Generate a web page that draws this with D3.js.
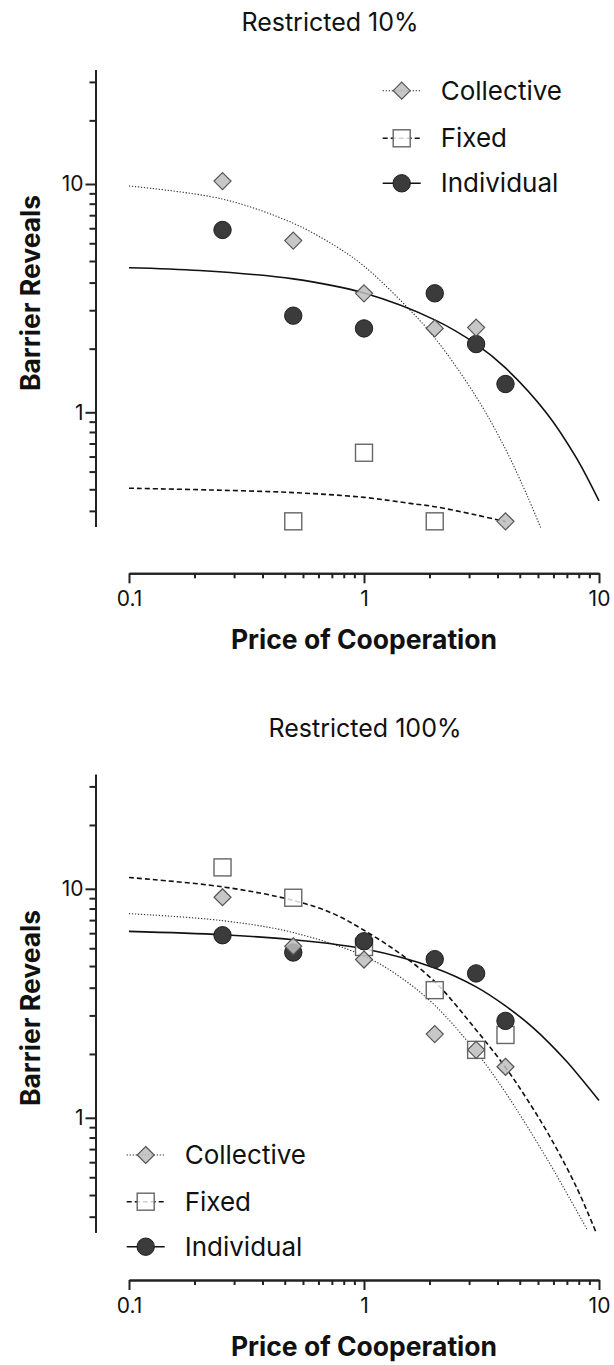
<!DOCTYPE html>
<html>
<head>
<meta charset="utf-8">
<script src="https://cdn.jsdelivr.net/npm/d3@7"></script>
<style>
  body { margin: 0; background: #fff; }
  svg { display: block; font-family: Inter, "Liberation Sans", sans-serif; }
  .axis path, .axis line { stroke: #222; stroke-width: 2; }
  .axis text { font-size: 21px; fill: #111; font-family: Inter, sans-serif; }
  .title { font-size: 25px; fill: #111; }
  .axis-title { font-size: 26.5px; font-weight: 700; fill: #111; }
  .legend text { font-size: 26px; fill: #111; }
</style>
</head>
<body>
<svg width="614" height="1365"></svg>
<script>
const width = 614, height = 1365;

// price of cooperation values
const prices = [0.25, 0.5, 1, 2, 3, 4];
const seriesNames = ["Collective", "Fixed", "Individual"];
const xTickLabels = [0.1, 1, 10];
const yTickLabels = [1, 10];

// Restricted 10%
const r10Collective = [10.3, 5.65, 3.32, 2.33, 2.35, 0.333];
const r10Fixed = [null, 0.333, 0.665, 0.333, null, null];
const r10Individual = [6.29, 2.65, 2.33, 3.32, 1.99, 1.33];
const r10CollectiveFit = [[0.1, 9.8], [0.25, 8.59], [0.5, 6.73], [0.75, 5.37], [1, 4.37], [1.5, 2.94], [2, 2.12], [3, 1.17], [4, 0.69], [5, 0.421], [5.64, 0.313]];
const r10FixedFit = [[0.1, 0.465], [0.22, 0.457], [0.5, 0.445], [1, 0.424], [1.57, 0.399], [2, 0.386], [3, 0.355], [4, 0.332]];
const r10IndividualFit = [[0.1, 4.3], [0.2, 4.18], [0.5, 3.84], [1, 3.33], [2, 2.54], [3, 1.99], [4, 1.565], [6, 0.989], [8, 0.633], [10, 0.409]];

// Restricted 100%
const r100Collective = [9.19, 5.61, 4.91, 2.32, 1.98, 1.67];
const r100Fixed = [12.4, 9.14, 5.57, 3.61, 1.98, 2.3];
const r100Individual = [6.27, 5.27, 5.9, 4.93, 4.27, 2.65];
const r100CollectiveFit = [[0.1, 7.79], [0.25, 7.26], [0.5, 6.44], [1, 5.09], [1.42, 4.13], [2, 3.1], [3, 1.94], [4, 1.29], [6, 0.663], [8.87, 0.327]];
const r100FixedFit = [[0.1, 11.2], [0.25, 10.2], [0.5, 8.9], [0.74, 7.79], [1, 6.59], [1.42, 5.22], [2, 3.93], [3, 2.42], [4, 1.66], [4.93, 1.21], [6.2, 0.823], [8.04, 0.495], [9.68, 0.319]];
const r100IndividualFit = [[0.1, 6.52], [0.25, 6.3], [0.5, 5.99], [1, 5.47], [2, 4.51], [3, 3.73], [4, 3.08], [5.25, 2.47], [7.29, 1.76], [10, 1.19]];

const svg = d3.select("svg");

// minor ticks the way the original software places them: 0.1 + 0.09k per decade
function minorTicks(lo, hi) {
    const out = [];
    for (let d = 0.01; d <= 100; d *= 10) {
        for (let k = 1; k <= 9; k++) {
            const v = +(d * (1 + 0.9 * k)).toPrecision(4);
            if (v >= lo && v <= hi) out.push(v);
        }
    }
    return out.filter(v => yTickLabels.indexOf(v) < 0 && xTickLabels.indexOf(v) < 0);
}

const styles = {
    Collective: { line: "1.3,1.7", width: 1.1, color: "#333" },
    Fixed: { line: "5,3", width: 1.6, color: "#111" },
    Individual: { line: null, width: 1.6, color: "#111" }
};

function drawMarker(g, name, x, y) {
    if (name === "Collective") {
        const s = 8.5;
        g.append("path")
            .attr("d", `M${x},${y - s}L${x + s},${y}L${x},${y + s}L${x - s},${y}Z`)
            .attr("fill", "#bdbdbd").attr("fill-opacity", 0.85)
            .attr("stroke", "#555").attr("stroke-width", 1.2);
    } else if (name === "Fixed") {
        const s = 8.5;
        g.append("rect")
            .attr("x", x - s).attr("y", y - s).attr("width", 2 * s).attr("height", 2 * s)
            .attr("fill", "#fff").attr("fill-opacity", 0.8)
            .attr("stroke", "#666").attr("stroke-width", 1.4);
    } else {
        g.append("circle")
            .attr("cx", x).attr("cy", y).attr("r", 8.7)
            .attr("fill", "#3b3b3b").attr("stroke", "#1e1e1e").attr("stroke-width", 1);
    }
}

function drawPanel(cfg) {
    const x = d3.scaleLog().domain([0.1, 10]).range([129, 599]);
    const y = d3.scaleLog().domain([Math.pow(10, -0.5), Math.pow(10, 1.5)]).range(cfg.yRange);
    const g = svg.append("g");

    // axes: minor ticks, then major ticks with labels
    const yMinor = minorTicks(y.domain()[0], y.domain()[1]);
    const xMinor = minorTicks(0.1, 10);

    g.append("g").attr("class", "axis")
        .attr("transform", `translate(95.5,0)`)
        .call(d3.axisLeft(y).tickValues(yMinor).tickSize(6).tickSizeOuter(0).tickFormat(""));
    g.append("g").attr("class", "axis")
        .attr("transform", `translate(95.5,0)`)
        .call(d3.axisLeft(y).tickValues(yTickLabels).tickSize(10).tickSizeOuter(0).tickPadding(2).tickFormat(d3.format("")));

    g.append("g").attr("class", "axis")
        .attr("transform", `translate(0,${cfg.xAxisY})`)
        .call(d3.axisBottom(x).tickValues(xMinor).tickSize(5).tickSizeOuter(0).tickFormat(""));
    g.append("g").attr("class", "axis")
        .attr("transform", `translate(0,${cfg.xAxisY})`)
        .call(d3.axisBottom(x).tickValues(xTickLabels).tickSize(10).tickSizeOuter(0).tickPadding(8).tickFormat(d3.format("")));

    // titles
    g.append("text").attr("class", "title")
        .attr("x", cfg.titleX).attr("y", cfg.titleY)
        .attr("text-anchor", "middle").text(cfg.title);
    g.append("text").attr("class", "axis-title")
        .attr("x", 364).attr("y", cfg.xAxisY + 76)
        .attr("text-anchor", "middle").text("Price of Cooperation");
    g.append("text").attr("class", "axis-title")
        .attr("transform", `translate(40,${cfg.yTitleY}) rotate(-90)`)
        .attr("text-anchor", "middle").text("Barrier Reveals");

    // fitted curves
    const line = d3.line().x(d => x(d[0])).y(d => y(d[1])).curve(d3.curveCatmullRom.alpha(0.5));
    seriesNames.forEach(name => {
        const st = styles[name];
        g.append("path")
            .attr("d", line(cfg.fits[name]))
            .attr("fill", "none")
            .attr("stroke", st.color)
            .attr("stroke-width", st.width)
            .attr("stroke-dasharray", st.line);
    });

    // points: squares, circles, diamonds
    ["Fixed", "Individual", "Collective"].forEach(name => {
        cfg.points[name].forEach((v, i) => {
            if (v == null) return;
            drawMarker(g, name, x(prices[i]), y(v));
        });
    });

    // legend
    const lg = g.append("g").attr("class", "legend");
    seriesNames.forEach((name, i) => {
        const cy = cfg.legend.y[i];
        const mx = cfg.legend.x;
        const st = styles[name];
        lg.append("line")
            .attr("x1", mx - 19).attr("x2", mx + 19).attr("y1", cy).attr("y2", cy)
            .attr("stroke", st.color).attr("stroke-width", st.width)
            .attr("stroke-dasharray", st.line);
        drawMarker(lg, name, mx, cy);
        lg.append("text").attr("x", mx + 39).attr("y", cy).attr("dy", "0.35em").text(name);
    });
}

drawPanel({
    title: "Restricted 10%", titleX: 330, titleY: 31,
    yRange: [526.45, 69.85], xAxisY: 573.3, yTitleY: 293,
    points: { Collective: r10Collective, Fixed: r10Fixed, Individual: r10Individual },
    fits: { Collective: r10CollectiveFit, Fixed: r10FixedFit, Individual: r10IndividualFit },
    legend: { x: 401.7, y: [90.7, 138.3, 183.3] }
});

drawPanel({
    title: "Restricted 100%", titleX: 365, titleY: 737,
    yRange: [1232.3, 774.3], xAxisY: 1280, yTitleY: 1008,
    points: { Collective: r100Collective, Fixed: r100Fixed, Individual: r100Individual },
    fits: { Collective: r100CollectiveFit, Fixed: r100FixedFit, Individual: r100IndividualFit },
    legend: { x: 145.7, y: [1155, 1201.7, 1246.7] }
});
</script>
</body>
</html>
